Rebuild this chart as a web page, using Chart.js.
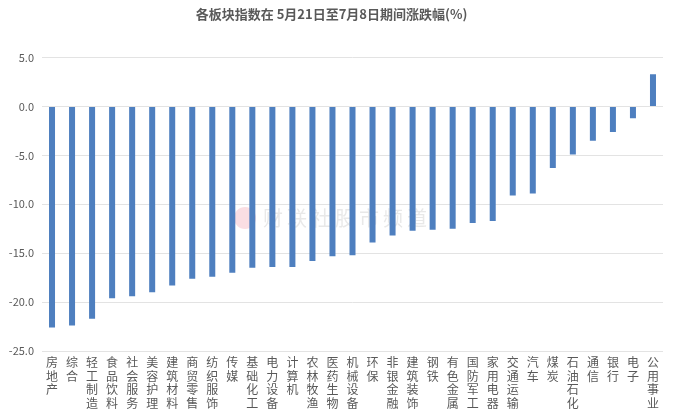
<!DOCTYPE html>
<html>
<head>
<meta charset="utf-8">
<script src="https://cdn.jsdelivr.net/npm/chart.js@4/dist/chart.umd.min.js"></script>
<style>
html,body{margin:0;padding:0;background:#fff;}
#wrap{width:693px;height:417px;}
</style>
</head>
<body>
<div id="wrap"><canvas id="c" width="693" height="417"></canvas></div>
<script>
const categories = ["房地产","综合","轻工制造","食品饮料","社会服务","美容护理","建筑材料","商贸零售","纺织服饰","传媒","基础化工","电力设备","计算机","农林牧渔","医药生物","机械设备","环保","非银金融","建筑装饰","钢铁","有色金属","国防军工","家用电器","交通运输","汽车","煤炭","石油石化","通信","银行","电子","公用事业"];
const changes = [-22.6,-22.4,-21.7,-19.6,-19.4,-19.0,-18.3,-17.6,-17.4,-17.0,-16.5,-16.4,-16.4,-15.8,-15.3,-15.2,-13.9,-13.2,-12.7,-12.6,-12.5,-11.9,-11.7,-9.1,-8.9,-6.3,-4.9,-3.5,-2.6,-1.2,3.3];
const yTicks = [5,0,-5,-10,-15,-20,-25];
const titleText = "各板块指数在 5月21日至7月8日期间涨跌幅(%)";
const watermark = "财联社股市频道";

const FONT = "'Noto Sans CJK SC','Noto Sans',sans-serif";

const wmPlugin = {
  id: 'wm',
  beforeDatasetsDraw(chart){
    const ctx = chart.ctx;
    ctx.save();
    ctx.font = "20px " + FONT;
    try { ctx.letterSpacing = "4px"; } catch(e) {}
    ctx.fillStyle = "rgba(190,190,190,0.35)";
    ctx.textBaseline = "middle";
    ctx.textAlign = "left";
    ctx.fillText(watermark, 263, 218);
    ctx.fillStyle = "rgba(240,160,175,0.35)";
    ctx.beginPath();
    ctx.arc(245, 218, 11, 0, Math.PI*2);
    ctx.fill();
    ctx.restore();
  }
};

new Chart(document.getElementById('c'), {
  type: 'bar',
  data: {
    labels: categories.map(s => s.split('')),
    datasets: [{
      data: changes,
      backgroundColor: '#4e7fbf',
      barPercentage: 0.3,
      categoryPercentage: 1.0
    }]
  },
  options: {
    responsive: false,
    animation: false,
    devicePixelRatio: 1,
    layout: { padding: { left: 0, right: 30, top: 0, bottom: 0 } },
    plugins: {
      legend: { display: false },
      tooltip: { enabled: false },
      title: {
        display: true,
        text: titleText,
        color: '#595959',
        font: { family: FONT, size: 13, weight: 'bold' },
        padding: { top: 6, bottom: 36 }
      }
    },
    scales: {
      x: {
        grid: { display: false },
        border: { display: false },
        ticks: {
          autoSkip: false,
          maxRotation: 0,
          minRotation: 0,
          color: '#595959',
          padding: -3,
          font: { family: FONT, size: 12, lineHeight: 1.12 }
        },
        afterFit(s){ s.height = 66; }
      },
      y: {
        min: -25,
        max: 5,
        afterBuildTicks(s){ s.ticks = yTicks.map(v => ({value: v})); },
        grid: { color: '#e3e3e3', drawTicks: false },
        border: { display: false },
        ticks: {
          color: '#595959',
          padding: 8,
          font: { family: FONT, size: 11 },
          callback: v => Number(v).toFixed(1)
        },
        afterFit(s){ s.width = 42; }
      }
    }
  },
  plugins: [wmPlugin]
});
</script>
</body>
</html>
